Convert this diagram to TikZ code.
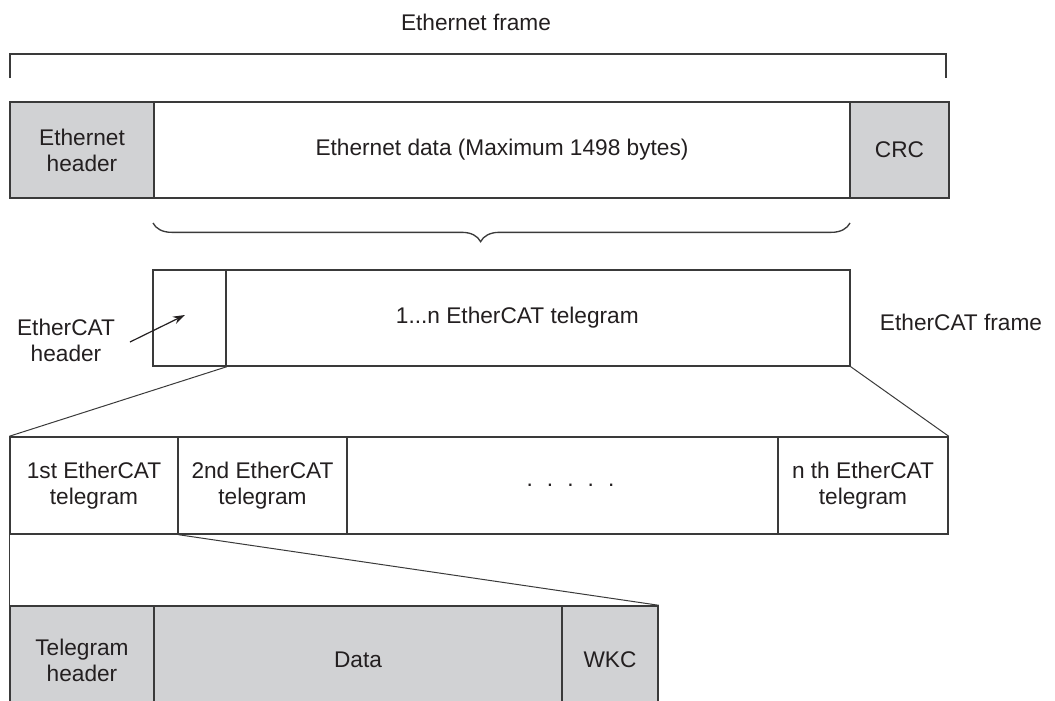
\documentclass[tikz,border=0pt]{standalone}
\usepackage{fontspec}
\setmainfont{Liberation Sans}
\usetikzlibrary{decorations.pathreplacing,arrows.meta}
\definecolor{boxgray}{HTML}{D1D2D4}
\definecolor{ink}{HTML}{231F20}
\definecolor{edge}{HTML}{3A3A3A}
\tikzset{
  fld/.style={draw=edge, line width=1.1pt, inner sep=0pt, align=center, text=ink,
    font=\fontsize{17}{19.5}\selectfont},
  cell/.style 2 args={minimum width=0.75pt*#1, minimum height=0.75pt*#2},
  grayfld/.style={fld, fill=boxgray},
  whitefld/.style={fld, fill=white},
  lbl/.style={text=ink, align=center, font=\fontsize{17}{19.5}\selectfont},
  zoomline/.style={draw=edge, line width=0.75pt},
}
\begin{document}
\begin{tikzpicture}[x=0.75pt,y=-0.75pt]
\useasboundingbox (0,0) rectangle (1055,700);
% title and bracket
\node[lbl] (title) at (476,22) {Ethernet frame};
\coordinate (bl) at (10,78);
\coordinate (br) at (946,78);
\draw[draw=edge, line width=1.1pt] (bl) -- (10,54) -- (946,54) -- (br);
% row 1
\node[grayfld, cell={144}{96}] (ethhdr) at (82,150) {Ethernet\\header};
\node[whitefld, cell={696}{96}] (ethdata) at (502,150) {Ethernet data (Maximum 1498 bytes)};
\node[grayfld, cell={99}{96}] (crc) at (899.5,150) {CRC};
% brace
\coordinate (brR) at (850,223);
\coordinate (brL) at (153,223);
\draw[draw=edge, line width=1pt, decorate, decoration={brace, amplitude=14pt, aspect=0.53}] (brR) -- (brL);
% row 2
\node[whitefld, cell={73}{96}] (echdr) at (189.5,318) {};
\node[whitefld, cell={624}{96}] (ectel) at (538,318) {\hspace*{-31pt}1...n EtherCAT telegram};
\node[lbl] (ecframe) at (961,322) {EtherCAT frame};
\node[lbl] (echdrlbl) at (66,340) {EtherCAT\\header};
\coordinate (arrtip) at (185,315);
\draw[draw=ink, line width=0.9pt, -{Stealth[length=9pt,width=6pt]}] (130,342) -- (arrtip);
% row 3
\node[whitefld, cell={168}{97}] (t1) at (94,485.5) {1st EtherCAT\\telegram};
\node[whitefld, cell={169}{97}] (t2) at (262.5,485.5) {2nd EtherCAT\\telegram};
\node[whitefld, cell={431}{97}] (tdots) at (562.5,485.5) {.\hspace{0.62em}.\hspace{0.62em}.\hspace{0.62em}.\hspace{0.62em}.\hspace*{-12pt}};
\node[whitefld, cell={170}{97}] (tn) at (863,485.5) {n th EtherCAT\\telegram};
\draw[zoomline] (echdr.south east) -- (t1.north west);
\draw[zoomline] (ectel.south east) -- (tn.north east);
% row 4
\node[grayfld, cell={144}{108}] (thdr) at (82,660) {Telegram\\header};
\node[grayfld, cell={408}{108}] (data) at (358,660) {Data};
\node[grayfld, cell={96}{108}] (wkc) at (610,660) {WKC};
\draw[zoomline] (t1.south west) -- (thdr.north west);
\draw[zoomline] (t1.south east) -- (wkc.north east);
\end{tikzpicture}
\end{document}
